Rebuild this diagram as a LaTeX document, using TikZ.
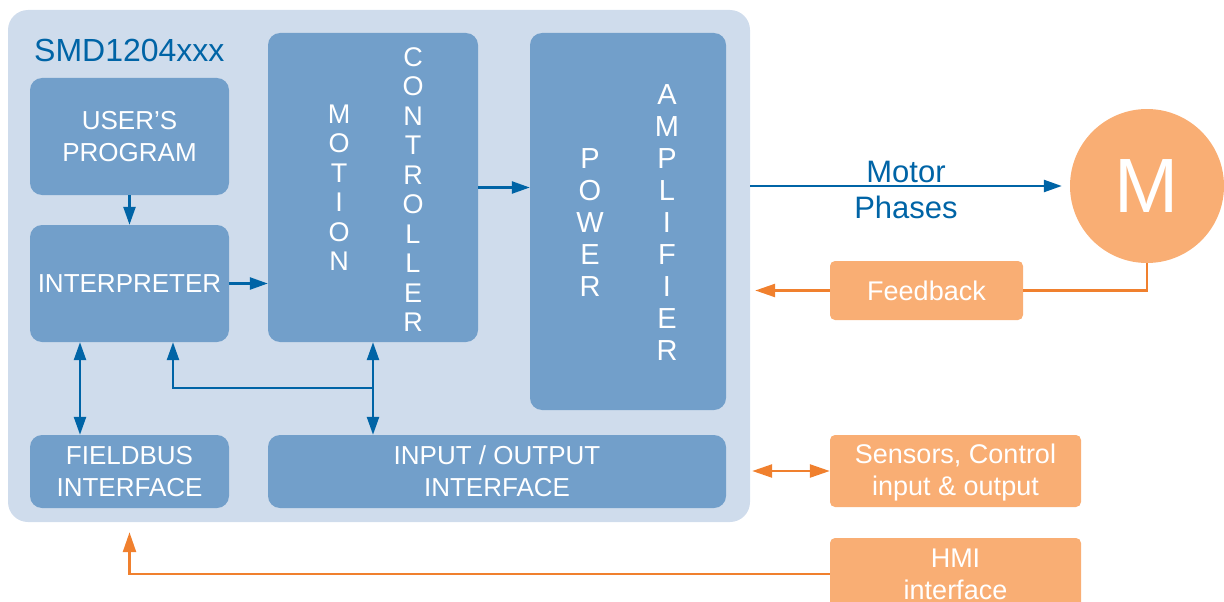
\documentclass[tikz,border=0pt]{standalone}
\usepackage{fontspec}
\setmainfont{Liberation Sans}
\usepackage{tikz}
\usetikzlibrary{arrows.meta, positioning, shapes.geometric}
\definecolor{fondoSMD}{RGB}{207,220,236}
\definecolor{azulCaja}{RGB}{114,159,202}
\definecolor{azulFlecha}{RGB}{0,100,166}
\definecolor{naranjaCaja}{RGB}{249,174,116}
\definecolor{naranjaFlecha}{RGB}{240,128,46}

\begin{document}
\begin{tikzpicture}[x=1pt, y=-1pt,
  block/.style={rectangle, fill=azulCaja, rounded corners=12pt, text=white,
                align=center, inner sep=0pt, font=\fontsize{26}{32}\selectfont},
  vtext/.style={text=white, align=center, inner sep=0pt},
  obox/.style={rectangle, fill=naranjaCaja, rounded corners=5pt, text=white,
               align=center, inner sep=0pt, font=\fontsize{27}{32}\selectfont},
  arr/.style={-{Triangle[length=18pt,width=12pt]}, line width=2.5pt, draw=azulFlecha},
  darr/.style={{Triangle[length=18pt,width=12pt]}-{Triangle[length=18pt,width=12pt]},
               line width=2.5pt, draw=azulFlecha},
  oline/.style={line width=2.5pt, draw=naranjaFlecha},
  oarr/.style={-{Triangle[length=20pt,width=13pt]}, line width=2.5pt, draw=naranjaFlecha},
  odarr/.style={{Triangle[length=20pt,width=13pt]}-{Triangle[length=20pt,width=13pt]},
                line width=2.5pt, draw=naranjaFlecha}
]
  \clip (0,0) rectangle (1224,602);

  % drive frame
  \node[rectangle, fill=fondoSMD, rounded corners=20pt, minimum width=742pt,
        minimum height=512pt] (smd) at (379,266) {};
  \node[anchor=west, inner sep=0pt, text=azulFlecha, font=\fontsize{32}{36}\selectfont]
        (title) at (34,50) {SMD1204xxx};

  % inner blocks
  \node[block, minimum width=199pt, minimum height=117pt] (prog) at (129.5,136.5) {USER’S\\PROGRAM};
  \node[block, minimum width=199pt, minimum height=117pt] (interp) at (129.5,283.5) {INTERPRETER};
  \node[block, minimum width=199pt, minimum height=73pt] (fieldbus) at (129.5,471.5) {FIELDBUS\\INTERFACE};
  \node[block, minimum width=210pt, minimum height=309pt] (motion) at (373,187.5) {};
  \node[block, minimum width=196pt, minimum height=377pt] (power) at (628,221.5) {};
  \node[block, minimum width=458pt, minimum height=73pt] (io) at (497,471.5) {INPUT / OUTPUT\\INTERFACE};

  \node[vtext, font=\fontsize{27}{29.5}\selectfont] (motionA) at (339,187.5) {M\\O\\T\\I\\O\\N};
  \node[vtext, font=\fontsize{27}{29.5}\selectfont] (motionB) at (413,189.5) {C\\O\\N\\T\\R\\O\\L\\L\\E\\R};
  \node[vtext, font=\fontsize{29}{32}\selectfont] (powerA) at (590,223) {P\\O\\W\\E\\R};
  \node[vtext, font=\fontsize{29}{32}\selectfont] (powerB) at (667,223) {A\\M\\P\\L\\I\\F\\I\\E\\R};

  % outside
  \node[circle, fill=naranjaCaja, minimum size=154pt, inner sep=0pt, text=white,
        font=\fontsize{77}{80}\selectfont] (motor) at (1147,186) {M};
  \node[obox, minimum width=193pt, minimum height=59pt] (feedback) at (926.5,290.5) {Feedback};
  \node[obox, minimum width=251pt, minimum height=72pt, text depth=2pt] (sensors) at (955.5,471) {Sensors, Control\\input \& output};
  \node[obox, minimum width=251pt, minimum height=72pt] (hmi) at (955.5,574) {HMI\\interface};

  % connections
  \draw[arr] (prog) -- (interp);
  \draw[arr] (interp.east) -- (interp.east -| motion.west);
  \draw[arr] (motion.east) -- (motion.east -| power.west);
  \draw[darr] ([xshift=-49.5pt]interp.south) -- ([xshift=-49.5pt]fieldbus.north);
  \draw[darr] (motion.south) -- (motion.south |- io.north);
  \path (motion.south) ++(0,46) coordinate (bus);
  \draw[arr] (bus) -| ([xshift=43.5pt]interp.south);

  \draw[arr] (motor.west -| smd.east) -- node[midway, yshift=-4pt, text=azulFlecha, align=center,
        font=\fontsize{31}{36}\selectfont]{Motor\\Phases} ([xshift=-8pt]motor.west);
  \draw[oline] (motor.south) |- (feedback.east);
  \draw[oarr, shorten >=5pt] (feedback.west) -- (feedback.west -| smd.east);
  \draw[odarr, shorten >=2pt] (sensors.west) -- (sensors.west -| smd.east);
  \draw[oarr, shorten >=10pt] (hmi.west) -| (prog.south |- smd.south);
\end{tikzpicture}
\end{document}
